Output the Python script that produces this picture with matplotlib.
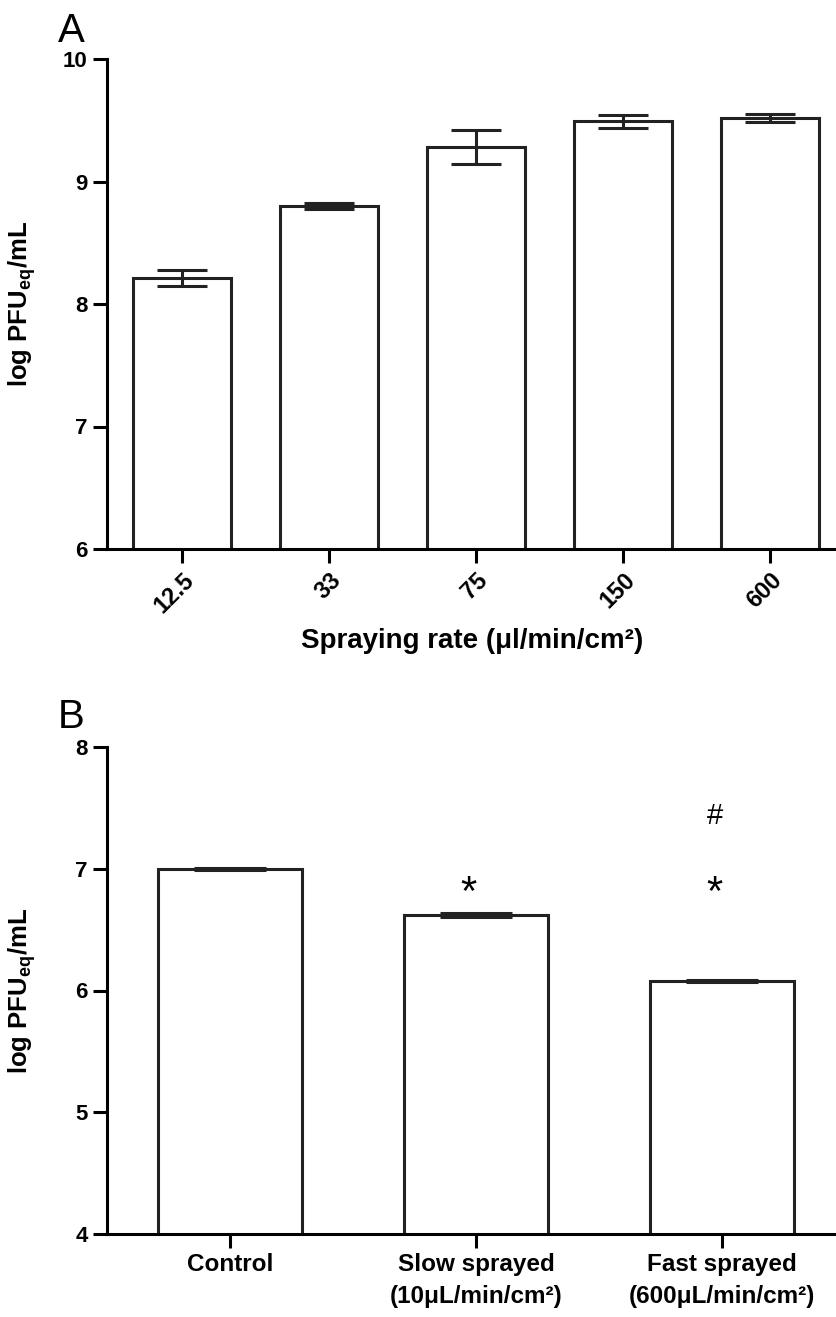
import matplotlib
matplotlib.use("Agg")
import matplotlib.pyplot as plt
import numpy as np

plt.rcParams["font.family"] = ["Liberation Sans", "DejaVu Sans"]
plt.rcParams["font.weight"] = "bold"
plt.rcParams["mathtext.fontset"] = "custom"
plt.rcParams["mathtext.bf"] = "Liberation Sans:bold"
plt.rcParams["mathtext.rm"] = "Liberation Sans:bold"

# panel A data
rates = ["12.5", "33", "75", "150", "600"]
rate_mean = [8.21, 8.80, 9.28, 9.49, 9.52]
rate_err = [0.065, 0.025, 0.14, 0.055, 0.035]

# panel B data
groups = ["Control", "Slow sprayed\n(10\u03bcL/min/cm\u00b2)", "Fast sprayed\n(600\u03bcL/min/cm\u00b2)"]
group_mean = [7.00, 6.62, 6.08]
group_err = [0.01, 0.02, 0.01]
star_y = [None, 6.79, 6.79]
hash_y = [None, None, 7.43]

W, H = 837, 1317
fig = plt.figure(figsize=(W / 100, H / 100), dpi=100)

LW = 2.2
YLAB = "log PFU$_{\\mathbf{eq}}$/mL"


def style(ax):
    for s in ["top", "right"]:
        ax.spines[s].set_visible(False)
    for s in ["left", "bottom"]:
        ax.spines[s].set_linewidth(LW)
    ax.tick_params(width=LW, length=10, labelsize=16, pad=4)
    for lab in ax.get_yticklabels():
        lab.set_fontweight("bold")


# ---- A ----
axA = fig.add_axes([107 / W, 1 - 549 / H, (W - 107) / W, 490 / H])
x = np.arange(len(rates))
axA.bar(x, rate_mean, width=0.667, color="white", edgecolor="#222222", linewidth=LW)
axA.errorbar(x, rate_mean, yerr=rate_err, fmt="none", ecolor="#222222",
             elinewidth=LW, capsize=18, capthick=LW)
axA.set_ylim(6, 10)
axA.set_xlim(-0.51, 4.453)
axA.set_yticks([6, 7, 8, 9, 10])
axA.set_xticks(x)
axA.set_xticklabels(rates, rotation=45, ha="right", rotation_mode="anchor",
                    fontweight="bold")
style(axA)
for lab in axA.get_xticklabels():
    lab.set_fontsize(17)
axA.set_ylabel(YLAB, fontsize=18.5, fontweight="bold")
axA.yaxis.set_label_coords(-0.094, 0.5)
axA.set_xlabel("Spraying rate (\u03bcl/min/cm\u00b2)", fontsize=20, fontweight="bold", labelpad=8)
fig.text(58 / W, 1 - 42 / H, "A", fontsize=29, fontweight="normal")

# ---- B ----
axB = fig.add_axes([107 / W, 1 - 1234 / H, (W - 107) / W, 487 / H])
xb = np.arange(len(groups))
axB.bar(xb, group_mean, width=0.585, color="white", edgecolor="#222222", linewidth=LW)
axB.errorbar(xb, group_mean, yerr=group_err, fmt="none", ecolor="#222222",
             elinewidth=LW, capsize=26, capthick=LW)
axB.set_ylim(4, 8)
axB.set_xlim(-0.5, 2.467)
axB.set_yticks([4, 5, 6, 7, 8])
axB.set_xticks(xb)
axB.set_xticklabels(groups, fontweight="bold", linespacing=1.45)
style(axB)
for lab in axB.get_xticklabels():
    lab.set_fontsize(17.5)
axB.set_ylabel(YLAB, fontsize=18.5, fontweight="bold")
axB.yaxis.set_label_coords(-0.094, 0.5)
for i in range(len(groups)):
    if star_y[i] is not None:
        axB.text(xb[i] - 0.03, star_y[i], "*", fontsize=30, fontweight="normal",
                 ha="center", va="center")
    if hash_y[i] is not None:
        axB.text(xb[i] - 0.03, hash_y[i], "#", fontsize=21, fontweight="normal",
                 ha="center", va="center")
fig.text(58 / W, 1 - 728 / H, "B", fontsize=29, fontweight="normal")

fig.savefig("out.png", dpi=100)
